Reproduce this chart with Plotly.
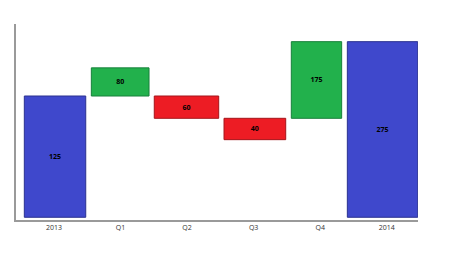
import plotly.graph_objects as go

categories = ["2013", "Q1", "Q2", "Q3", "Q4", "2014"]
label_text = ["125", "80", "60", "40", "175", "275"]
bar_base = [0, 125, 102, 80, 102, 0]
bar_top = [125, 154, 125, 102, 181, 181]

heights = [t - b for t, b in zip(bar_top, bar_base)]

fills = ["#3f48cc", "#22b14c", "#ed1c24", "#ed1c24", "#22b14c", "#3f48cc"]
edges = ["#2a3190", "#17803a", "#a5141a", "#a5141a", "#17803a", "#2a3190"]
widths = [0.923, 0.867, 0.968, 0.927, 0.757, 1.058]
offsets = [-0.446, -0.439, -0.493, -0.445, -0.434, -0.592]

fig = go.Figure(
    go.Bar(
        x=categories,
        y=heights,
        base=bar_base,
        width=widths,
        offset=offsets,
        marker=dict(color=fills, line=dict(color=edges, width=1)),
        text=label_text,
        textposition="inside",
        insidetextanchor="middle",
        textangle=0,
        textfont=dict(family="Open Sans", size=7, color="#000000", weight="bold"),
        cliponaxis=False,
        hoverinfo="skip",
    )
)

fig.update_layout(
    width=474,
    height=256,
    margin=dict(l=16, r=56, t=24, b=36),
    paper_bgcolor="white",
    plot_bgcolor="white",
    showlegend=False,
    uniformtext=dict(minsize=7, mode="show"),
    xaxis=dict(
        type="category",
        range=[-0.571, 5.47],
        showgrid=False,
        zeroline=False,
        showline=True,
        linecolor="#9a9a9a",
        linewidth=1.5,
        ticks="",
        tickfont=dict(family="Open Sans", size=7, color="#333333"),
    ),
    yaxis=dict(
        range=[-2.8, 199.2],
        showgrid=False,
        zeroline=False,
        showline=True,
        linecolor="#9a9a9a",
        linewidth=1.5,
        ticks="",
        showticklabels=False,
    ),
)

fig.write_html("out.html")
